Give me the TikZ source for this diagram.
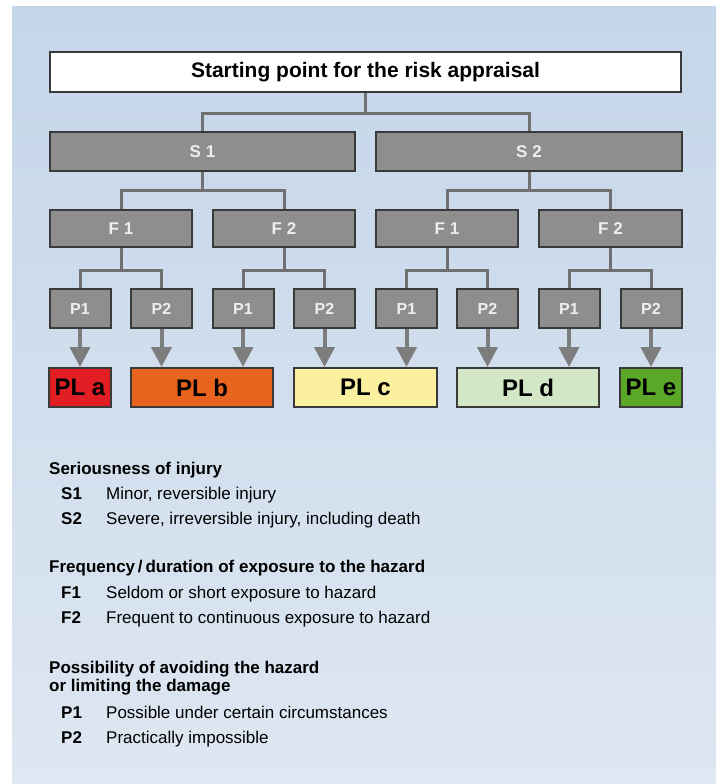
\documentclass[tikz,border=0pt]{standalone}
\usepackage{fontspec}
\setmainfont{Liberation Sans}
\usetikzlibrary{arrows.meta}
\definecolor{panelTop}{RGB}{196,214,233}
\definecolor{panelBot}{RGB}{222,231,242}
\definecolor{boxgray}{RGB}{142,142,142}
\definecolor{boxline}{RGB}{58,58,58}
\definecolor{boxtext}{RGB}{238,238,238}
\definecolor{connc}{RGB}{112,112,112}
\definecolor{arrc}{RGB}{125,125,125}
\definecolor{plA}{RGB}{226,30,36}
\definecolor{plB}{RGB}{232,100,30}
\definecolor{plC}{RGB}{250,240,160}
\definecolor{plD}{RGB}{211,230,197}
\definecolor{plE}{RGB}{91,168,41}
\begin{document}
\begin{tikzpicture}[x=1pt,y=-1pt,
  topbox/.style={draw=boxline, line width=2pt, fill=white, inner sep=0pt,
    minimum height=40pt, font=\fontsize{21}{21}\selectfont\bfseries},
  gbox/.style={draw=boxline, line width=2pt, fill=boxgray, inner sep=0pt,
    text=boxtext, font=\fontsize{17}{17}\selectfont\bfseries},
  sbox/.style={gbox, minimum height=39pt},
  fbox/.style={gbox, minimum height=37pt, minimum width=142pt},
  pbox/.style={gbox, minimum height=39pt, minimum width=61pt, font=\fontsize{16}{16}\selectfont\bfseries},
  plbox/.style={draw=boxline, line width=2pt, inner sep=0pt, minimum height=39pt,
    font=\fontsize{24}{24}\selectfont\bfseries},
  conn/.style={draw=connc, line width=3pt},
  arr/.style={draw=arrc, line width=4pt, -{Triangle[width=20pt,length=20pt]}},
  head/.style={anchor=base west, inner sep=0pt, font=\fontsize{17}{18}\selectfont\bfseries},
  lab/.style={anchor=base west, inner sep=0pt, font=\fontsize{17}{18}\selectfont\bfseries},
  txt/.style={anchor=base west, inner sep=0pt, font=\fontsize{17}{18}\selectfont}
]
\useasboundingbox (0,0) rectangle (721,784);
\shade[top color=panelTop, bottom color=panelBot] (12,7) rectangle (716,784);

% top
\node[topbox, minimum width=631pt] (top) at (365.5,72) {Starting point for the risk appraisal};
% S
\node[sbox, minimum width=305pt] (s1) at (202.5,151.5) {S 1};
\node[sbox, minimum width=306pt] (s2) at (529,151.5) {S 2};
% F
\node[fbox] (f1a) at (121,228.5) {F 1};
\node[fbox] (f2a) at (284,228.5) {F 2};
\node[fbox] (f1b) at (447,228.5) {F 1};
\node[fbox, minimum width=143pt] (f2b) at (610.5,228.5) {F 2};
% P
\node[pbox] (p1a) at (80,308.5) {P1};
\node[pbox] (p2a) at (161.5,308.5) {P2};
\node[pbox] (p1b) at (243,308.5) {P1};
\node[pbox] (p2b) at (324.5,308.5) {P2};
\node[pbox] (p1c) at (406.5,308.5) {P1};
\node[pbox] (p2c) at (487.5,308.5) {P2};
\node[pbox] (p1d) at (569,308.5) {P1};
\node[pbox] (p2d) at (651,308.5) {P2};
% PL
\node[plbox, fill=plA, minimum width=62pt] (pla) at (80,387.5) {PL a};
\node[plbox, fill=plB, minimum width=142pt] (plb) at (202,387.5) {PL b};
\node[plbox, fill=plC, minimum width=143pt] (plc) at (365.5,387.5) {PL c};
\node[plbox, fill=plD, minimum width=142pt] (pld) at (528,387.5) {PL d};
\node[plbox, fill=plE, minimum width=62pt] (ple) at (651,387.5) {PL e};

% connectors
\draw[conn] (top.south) -- (top.south |- 0,113.5);
\draw[conn] (s1.north) -- (s1.north |- 0,113.5) -| (s2.north);
\draw[conn] (s1.south) -- (s1.south |- 0,190);
\draw[conn] (f1a.north) -- (f1a.north |- 0,190) -| (f2a.north);
\draw[conn] (s2.south) -- (s2.south |- 0,190);
\draw[conn] (f1b.north) -- (f1b.north |- 0,190) -| (f2b.north);
\draw[conn] (f1a.south) -- (f1a.south |- 0,270);
\draw[conn] (p1a.north) -- (p1a.north |- 0,270) -| (p2a.north);
\draw[conn] (f2a.south) -- (f2a.south |- 0,270);
\draw[conn] (p1b.north) -- (p1b.north |- 0,270) -| (p2b.north);
\draw[conn] (f1b.south) -- (f1b.south |- 0,270);
\draw[conn] (p1c.north) -- (p1c.north |- 0,270) -| (p2c.north);
\draw[conn] (f2b.south) -- (f2b.south |- 0,270);
\draw[conn] (p1d.north) -- (p1d.north |- 0,270) -| (p2d.north);

% arrows
\draw[arr] (p1a.south) -- (pla.north);
\draw[arr] (p2a.south) -- (p2a.south |- plb.north);
\draw[arr] (p1b.south) -- (p1b.south |- plb.north);
\draw[arr] (p2b.south) -- (p2b.south |- plc.north);
\draw[arr] (p1c.south) -- (p1c.south |- plc.north);
\draw[arr] (p2c.south) -- (p2c.south |- pld.north);
\draw[arr] (p1d.south) -- (p1d.south |- pld.north);
\draw[arr] (p2d.south) -- (ple.north);

% legend
\node[head] (h1) at (49,474) {Seriousness of injury};
\node[lab] (ls1) at (61,499) {S1};
\node[txt] (ts1) at (106,499) {Minor, reversible injury};
\node[lab] (ls2) at (61,524) {S2};
\node[txt] (ts2) at (106,524) {Severe, irreversible injury, including death};

\node[head] (h2) at (49,572) {Frequency\,/\,duration of exposure to the hazard};
\node[lab] (lf1) at (61,598) {F1};
\node[txt] (tf1) at (106,598) {Seldom or short exposure to hazard};
\node[lab] (lf2) at (61,623) {F2};
\node[txt] (tf2) at (106,623) {Frequent to continuous exposure to hazard};

\node[head] (h3) at (49,673) {Possibility of avoiding the hazard};
\node[head] (h3b) at (49,691) {or limiting the damage};
\node[lab] (lp1) at (61,718) {P1};
\node[txt] (tp1) at (106,718) {Possible under certain circumstances};
\node[lab] (lp2) at (61,743) {P2};
\node[txt] (tp2) at (106,743) {Practically impossible};
\end{tikzpicture}
\end{document}
